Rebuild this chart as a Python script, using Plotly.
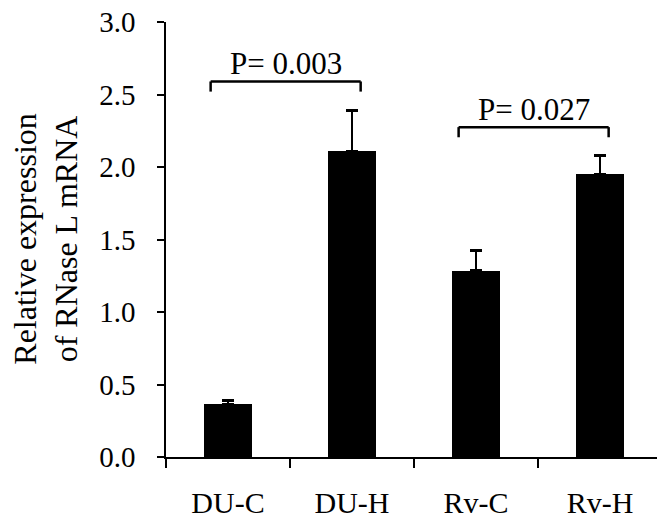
import plotly.graph_objects as go

# Relative RNase L mRNA expression per group (mean with upper SE)
groups = ["DU-C", "DU-H", "Rv-C", "Rv-H"]
expression = [0.366, 2.11, 1.285, 1.95]
std_error = [0.025, 0.28, 0.14, 0.13]

# Pairwise comparisons: (left group index, right group index, label, bracket level)
comparisons = [
    (0, 1, "P= 0.003", 2.59),
    (2, 3, "P= 0.027", 2.275),
]

y_ticks = [0.0, 0.5, 1.0, 1.5, 2.0, 2.5, 3.0]

FONT = "Liberation Serif, Times New Roman, serif"

fig = go.Figure()
fig.add_trace(
    go.Bar(
        x=groups,
        y=expression,
        width=0.39,
        marker=dict(color="black", line=dict(width=0)),
        error_y=dict(
            type="data",
            array=std_error,
            arrayminus=[0] * len(std_error),
            symmetric=False,
            color="black",
            thickness=2.5,
            width=6,
        ),
        showlegend=False,
    )
)

# Significance brackets with their P-value labels
shapes = []
annotations = []
drop = 0.07
for i, j, label, level in comparisons:
    x0, x1 = i - 0.14, j + 0.07
    line = dict(color="black", width=2.5)
    shapes.append(dict(type="line", xref="x", yref="y", x0=x0, x1=x1, y0=level, y1=level, line=line))
    shapes.append(dict(type="line", xref="x", yref="y", x0=x0, x1=x0, y0=level, y1=level - drop, line=line))
    shapes.append(dict(type="line", xref="x", yref="y", x0=x1, x1=x1, y0=level, y1=level - drop, line=line))
    annotations.append(
        dict(
            x=(x0 + x1) / 2,
            y=level,
            xref="x",
            yref="y",
            text=label,
            showarrow=False,
            xanchor="center",
            yanchor="bottom",
            yshift=-2,
            font=dict(family=FONT, size=31, color="black"),
        )
    )

# Two-line rotated y-axis title
annotations.append(
    dict(
        x=-0.246,
        y=0.5,
        xref="paper",
        yref="paper",
        text="Relative expression<br>of RNase L mRNA",
        textangle=-90,
        showarrow=False,
        xanchor="center",
        yanchor="middle",
        font=dict(family=FONT, size=32, color="black"),
    )
)

fig.update_layout(
    width=657,
    height=524,
    margin=dict(l=166, r=0, t=22, b=67, autoexpand=False),
    paper_bgcolor="white",
    plot_bgcolor="white",
    bargap=0,
    shapes=shapes,
    annotations=annotations,
    font=dict(family=FONT, color="black"),
    xaxis=dict(
        type="category",
        range=[-0.5, 3.46],
        showline=True,
        linecolor="black",
        linewidth=1.5,
        ticks="outside",
        tickson="boundaries",
        ticklen=9,
        tickwidth=1.5,
        tickcolor="black",
        ticklabelstandoff=18,
        tickfont=dict(family=FONT, size=30, color="black"),
        showgrid=False,
        zeroline=False,
        automargin=False,
    ),
    yaxis=dict(
        range=[0, 3.0],
        tickvals=y_ticks,
        ticktext=[f"{v:.1f}" for v in y_ticks],
        showline=True,
        linecolor="black",
        linewidth=1.5,
        ticks="outside",
        ticklen=7,
        tickwidth=1.5,
        tickcolor="black",
        ticklabelstandoff=16,
        tickfont=dict(family=FONT, size=29, color="black"),
        showgrid=False,
        zeroline=False,
        automargin=False,
    ),
)

fig.write_html("out.html")
